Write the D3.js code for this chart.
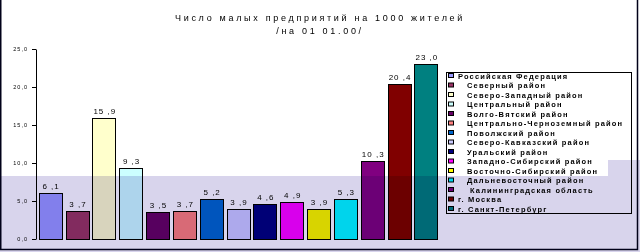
<!DOCTYPE html>
<html>
<head>
<meta charset="utf-8">
<style>
body { margin: 0; background: #fff; }
text { font-family: "Liberation Sans", Arial, sans-serif; fill: #000; }
.axis .domain { stroke: #000; }
.axis line { stroke: #000; }
</style>
</head>
<body>
<svg width="640" height="252"></svg>
<script src="https://cdn.jsdelivr.net/npm/d3@7"></script>
<script>

var regions = [
  "Российская Федерация",
  "   Северный район",
  "   Северо-Западный район",
  "   Центральный район",
  "   Волго-Вятский район",
  "   Центрально-Черноземный район",
  "   Поволжский район",
  "   Северо-Кавказский район",
  "   Уральский район",
  "   Западно-Сибирский район",
  "   Восточно-Сибирский район",
  "   Дальневосточный район",
  "    Калининградская область",
  "г. Москва",
  "г. Санкт-Петербург"
];

var values = [6.1, 3.7, 15.9, 9.3, 3.5, 3.7, 5.2, 3.9, 4.6, 4.9, 3.9, 5.3, 10.3, 20.4, 23.0];

var colors = ["#9999ff", "#993366", "#ffffcc", "#ccffff", "#660066", "#ff8080", "#0066cc", "#ccccff",
              "#000080", "#ff00ff", "#ffff00", "#00ffff", "#800080", "#800000", "#008080"];

var yTicks = [0, 5, 10, 15, 20, 25];

var titleLines = ["Число малых предприятий на 1000 жителей", "/на 01 01.00/"];

var svg = d3.select("svg");

var data = regions.map(function(r, i) { return {name: r, value: values[i], color: colors[i]}; });

var x = d3.scaleBand()
    .domain(regions)
    .range([36, 440])
    .paddingInner(0.15)
    .paddingOuter(0.1);

var y = d3.scaleLinear()
    .domain([0, 25])
    .range([239, 49]);

var comma = function(d) { return d3.format(".1f")(d).replace(".", ","); };

// title
svg.append("g")
    .attr("font-size", 9)
    .attr("letter-spacing", 2.7)
    .attr("text-anchor", "middle")
  .selectAll("text")
  .data(titleLines)
  .enter().append("text")
    .attr("x", 320)
    .attr("y", function(d, i) { return 21 + i * 13; })
    .text(function(d) { return d; });

// y axis
var yAxis = svg.append("g")
    .attr("class", "axis")
    .attr("transform", "translate(36,0)")
    .call(d3.axisLeft(y).tickValues(yTicks).tickSize(4).tickSizeOuter(0).tickFormat(comma));

yAxis.selectAll("text")
    .attr("font-size", 5.5)
    .attr("letter-spacing", 1)
    .attr("x", -8);
yAxis.attr("font-family", null);

// bars
svg.append("g")
  .selectAll("rect")
  .data(data)
  .enter().append("rect")
    .attr("x", function(d) { return Math.round(x(d.name)) + 0.5; })
    .attr("y", function(d) { return Math.round(y(d.value)) + 0.5; })
    .attr("width", Math.round(x.bandwidth()))
    .attr("height", function(d) { return Math.round(y(0)) - Math.round(y(d.value)); })
    .attr("fill", function(d) { return d.color; })
    .attr("stroke", "#000")
    .attr("stroke-width", 1);

// value labels
svg.append("g")
    .attr("font-size", 8)
    .attr("letter-spacing", 1)
    .attr("text-anchor", "middle")
  .selectAll("text")
  .data(data)
  .enter().append("text")
    .attr("x", function(d) { return x(d.name) + x.bandwidth() / 2 + 1; })
    .attr("y", function(d) { return y(d.value) - 4; })
    .text(function(d) { return comma(d.value).replace(",", " ,"); });

// legend
var legend = svg.append("g");

legend.append("rect")
    .attr("x", 446.5)
    .attr("y", 72.5)
    .attr("width", 185)
    .attr("height", 141)
    .attr("fill", "#fff")
    .attr("stroke", "#000");

var rows = legend.selectAll("g.row")
  .data(data)
  .enter().append("g")
    .attr("class", "row")
    .attr("transform", function(d, i) { return "translate(0," + (76 + i * 9.5) + ")"; });

rows.append("rect")
    .attr("x", 448.5)
    .attr("y", -2.5)
    .attr("width", 5)
    .attr("height", 4)
    .attr("fill", function(d) { return d.color; })
    .attr("stroke", "#000");

// leading spaces of a label become its indent
var lead = function(s) { return s.length - s.replace(/^ +/, "").length; };

rows.append("text")
    .attr("x", function(d) { return 458 + lead(d.name) * 3; })
    .attr("y", 2.7)
    .attr("font-size", 7.5)
    .attr("font-weight", "bold")
    .attr("letter-spacing", 1.15)
    .text(function(d) { return d.name.trim(); });

// lavender overlay band
var overlay = svg.append("g").style("mix-blend-mode", "multiply");
overlay.append("rect")
    .attr("x", 0).attr("y", 176).attr("width", 608).attr("height", 76)
    .attr("fill", "#d8d4ec");
overlay.append("rect")
    .attr("x", 608).attr("y", 160).attr("width", 32).attr("height", 92)
    .attr("fill", "#d8d4ec");

// chart frame
svg.append("path")
    .attr("d", "M0.75,0V249.5H637.5V0")
    .attr("fill", "none")
    .attr("stroke", "#000018")
    .attr("stroke-width", 1.5);

</script>
</body>
</html>
